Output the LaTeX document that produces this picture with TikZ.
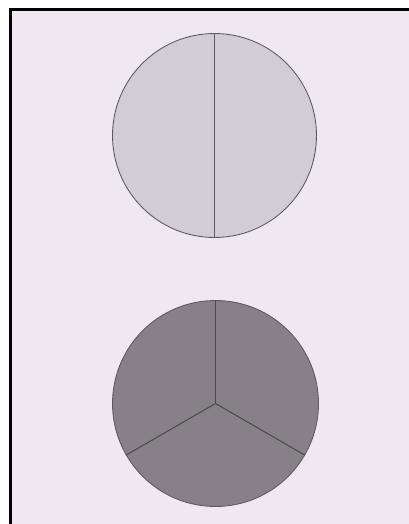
\documentclass[tikz,border=0pt]{standalone}
\definecolor{paper}{RGB}{240,232,240}
\definecolor{lightdisc}{RGB}{210,205,212}
\definecolor{darkdisc}{RGB}{135,128,136}
\definecolor{rim}{RGB}{95,90,96}
\begin{document}
\begin{tikzpicture}[x=0.02cm, y=-0.02cm,
    disc/.style={circle, draw=rim, line width=0.5pt, inner sep=0pt, minimum size=4.08cm},
    split/.style={draw=rim, line width=0.6pt}]
  \useasboundingbox (0,0) rectangle (409,524);
  \fill[white] (0,0) rectangle (409,524);
  \fill[paper] (10,9) rectangle (409,524);
  \draw[black, line width=1.7pt] (10.5,524) -- (10.5,9.5) -- (409,9.5);

  % two halves
  \node[disc, fill=lightdisc] (half) at (214.5,135.5) {};
  \draw[split] (half.north) -- (half.south);

  % three sectors
  \node[disc, fill=darkdisc, minimum size=4.12cm] (third) at (215.5,403.5) {};
  \foreach \a in {90,210,330}
    \draw[split, draw=black!70] (third.center) -- (third.\a);
\end{tikzpicture}
\end{document}
